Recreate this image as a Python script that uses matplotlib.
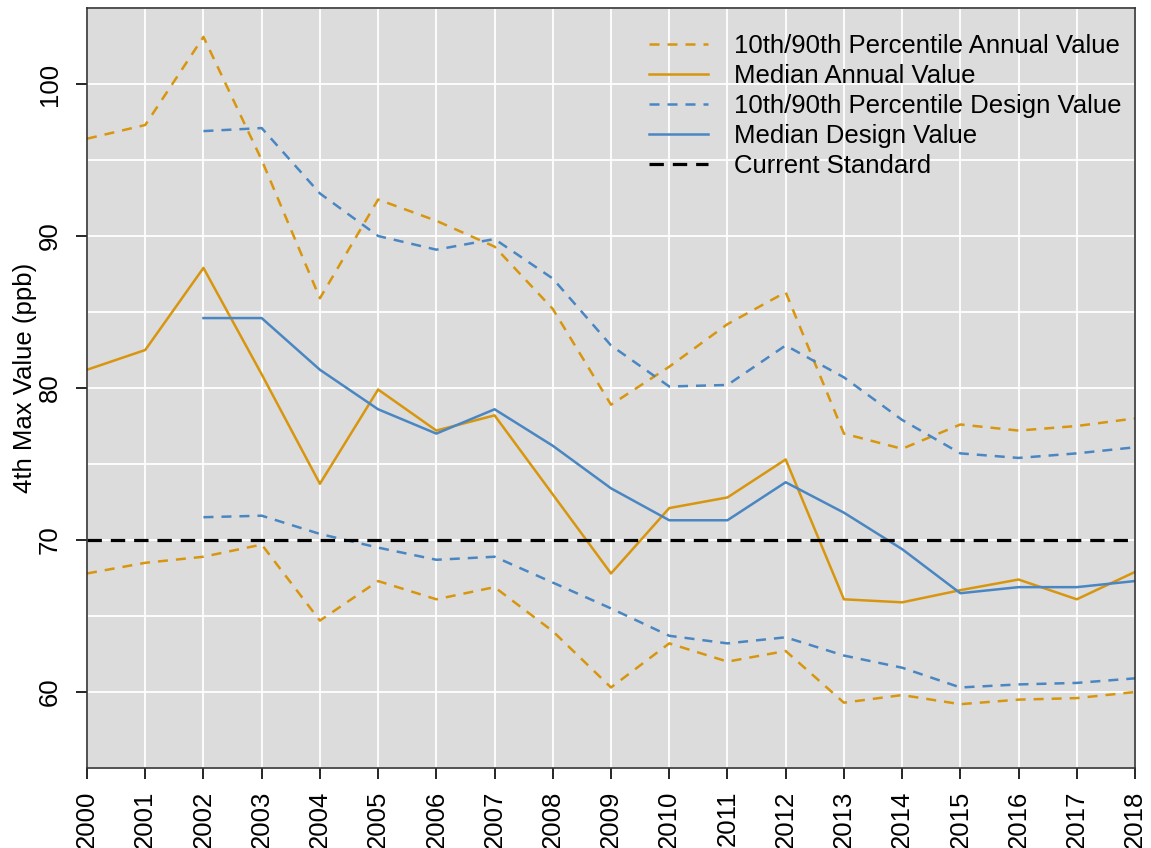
import matplotlib
matplotlib.use("Agg")
import matplotlib.pyplot as plt
import numpy as np

plt.rcParams['font.family'] = ['Liberation Sans', 'DejaVu Sans']

years = list(range(2000, 2019))
design_years = list(range(2002, 2019))

annual_upper = [96.4, 97.3, 103.1, 95.0, 85.9, 92.4, 91.0, 89.3, 85.2, 78.9,
                81.4, 84.2, 86.3, 77.0, 76.0, 77.6, 77.2, 77.5, 78.0]
annual_median = [81.2, 82.5, 87.9, 80.9, 73.7, 79.9, 77.2, 78.2, 73.0, 67.8,
                 72.1, 72.8, 75.3, 66.1, 65.9, 66.7, 67.4, 66.1, 67.9]
annual_lower = [67.8, 68.5, 68.9, 69.7, 64.7, 67.3, 66.1, 66.9, 64.0, 60.3,
                63.2, 62.0, 62.7, 59.3, 59.8, 59.2, 59.5, 59.6, 60.0]

design_upper = [96.9, 97.1, 92.8, 90.0, 89.1, 89.8, 87.2, 82.8,
                80.1, 80.2, 82.8, 80.7, 77.9, 75.7, 75.4, 75.7, 76.1]
design_median = [84.6, 84.6, 81.2, 78.6, 77.0, 78.6, 76.2, 73.4,
                 71.3, 71.3, 73.8, 71.8, 69.4, 66.5, 66.9, 66.9, 67.3]
design_lower = [71.5, 71.6, 70.4, 69.5, 68.7, 68.9, 67.2, 65.5,
                63.7, 63.2, 63.6, 62.4, 61.6, 60.3, 60.5, 60.6, 60.9]

standard = 70

orange = '#D8960F'
blue = '#4A86C2'
fs = 18.5

fig = plt.figure(figsize=(11.51, 8.48), dpi=100)
ax = fig.add_axes([0.0756, 0.0943, 0.9105, 0.8963])
ax.set_facecolor('#DCDCDC')

lw = 1.8
dash = (4, 3.2)
ax.plot(years, annual_upper, color=orange, lw=lw, dashes=dash,
        label='10th/90th Percentile Annual Value')
ax.plot(years, annual_lower, color=orange, lw=lw, dashes=dash)
ax.plot(years, annual_median, color=orange, lw=lw, label='Median Annual Value')
ax.plot(design_years, design_upper, color=blue, lw=lw, dashes=dash,
        label='10th/90th Percentile Design Value')
ax.plot(design_years, design_lower, color=blue, lw=lw, dashes=dash)
ax.plot(design_years, design_median, color=blue, lw=lw, label='Median Design Value')
ax.axhline(standard, color='black', lw=2.3, dashes=(4.5, 2.8), label='Current Standard')

ax.set_xlim(2000, 2018)
ax.set_ylim(55, 105)
ax.set_xticks(years)
ax.set_xticklabels([str(y) for y in years], rotation=90)
ax.set_yticks([60, 70, 80, 90, 100])
ax.set_yticks(np.arange(55, 106, 5), minor=True)
ax.tick_params(axis='y', which='minor', length=0)
for lab in ax.get_yticklabels():
    lab.set_rotation(90)
    lab.set_va('center')
ax.tick_params(axis='both', which='major', labelsize=fs, length=8, width=1.2, pad=8)
ax.tick_params(axis='y', which='major', pad=10)
ax.grid(True, which='both', color='white', lw=1.3)
ax.set_axisbelow(True)
for s in ax.spines.values():
    s.set_linewidth(1.2)
    s.set_color('#333333')

ax.set_ylabel('4th Max Value (ppb)', fontsize=fs)
ax.yaxis.set_label_coords(-0.0475, 0.513)

ax.legend(loc='upper right', bbox_to_anchor=(1.009, 0.996), frameon=False,
          fontsize=fs, handlelength=2.3, labelspacing=0.23, handletextpad=1.0,
          borderaxespad=0.5)

plt.savefig('out.png', dpi=100)
plt.close()
